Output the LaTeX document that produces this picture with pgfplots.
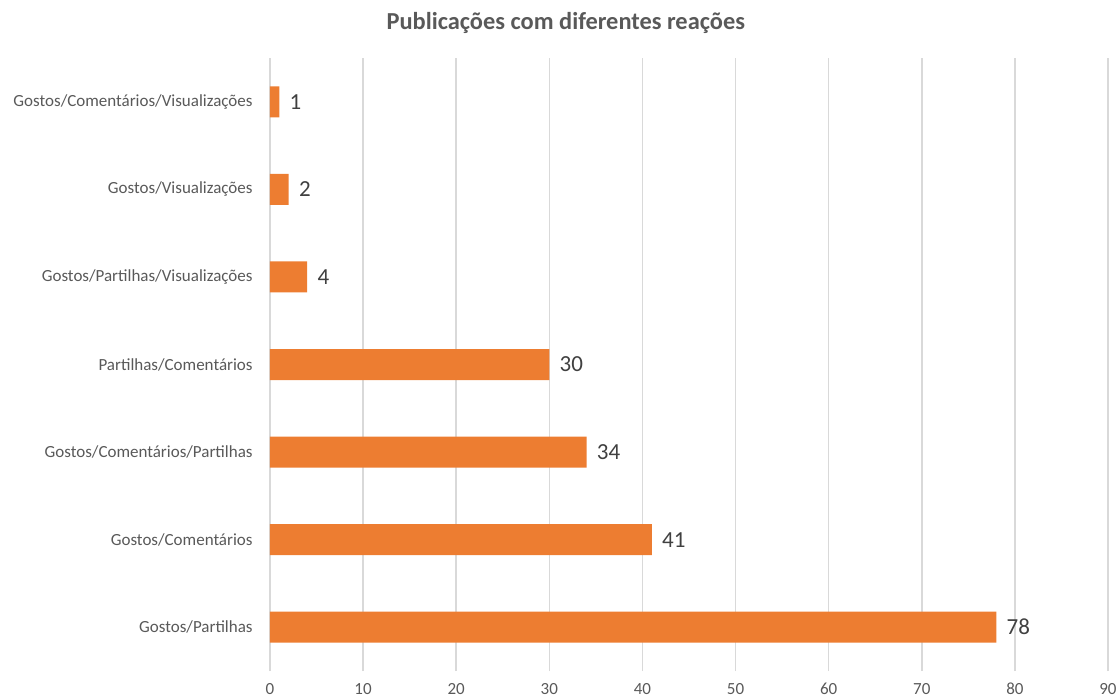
\documentclass[border=0pt]{standalone}
\usepackage{pgfplots}
\pgfplotsset{compat=1.18}
\usepackage{fontspec}
\setmainfont{Carlito}
\definecolor{barc}{HTML}{ED7D31}
\definecolor{gridc}{HTML}{D9D9D9}
\definecolor{txt}{HTML}{595959}
\definecolor{lbl}{HTML}{404040}
\begin{document}
\begin{tikzpicture}
\useasboundingbox (-135pt,-13.5pt) rectangle (423.5pt,335.5pt);
\begin{axis}[
  scale only axis,
  width=419pt, height=306.5pt,
  xbar, bar width=15.5pt,
  xmin=0, xmax=90, ymin=-0.5, ymax=6.5,
  xtick={0,10,...,90},
  ytick={0,...,6},
  yticklabels={Gostos/Partilhas,Gostos/Comentários,Gostos/Comentários/Partilhas,Partilhas/Comentários,Gostos/Partilhas/Visualizações,Gostos/Visualizações,Gostos/Comentários/Visualizações},
  xmajorgrids, grid style={gridc, line width=0.8pt},
  axis line style={draw=none},
  major tick length=0pt,
  /pgf/number format/assume math mode=true,
  xticklabel style={font=\fontsize{8.5}{10}\selectfont, text=txt, inner sep=0pt, anchor=base, yshift=-11.5pt},
  yticklabel style={font=\fontsize{8.5}{10}\selectfont, text=txt, inner sep=0pt, xshift=-8.5pt},
  title={\textbf{Publicações com diferentes reações}},
  title style={font=\fontsize{12.2}{14}\selectfont, text=txt, at={(0.353,1)}, anchor=center, yshift=11.5pt},
  nodes near coords,
  nodes near coords style={font=\fontsize{11.5}{13}\selectfont, text=lbl, anchor=west, inner sep=0pt, xshift=5pt},
]
\addplot[fill=barc, draw=none] coordinates {(78,0) (41,1) (34,2) (30,3) (4,4) (2,5) (1,6)};
\end{axis}
\end{tikzpicture}
\end{document}
